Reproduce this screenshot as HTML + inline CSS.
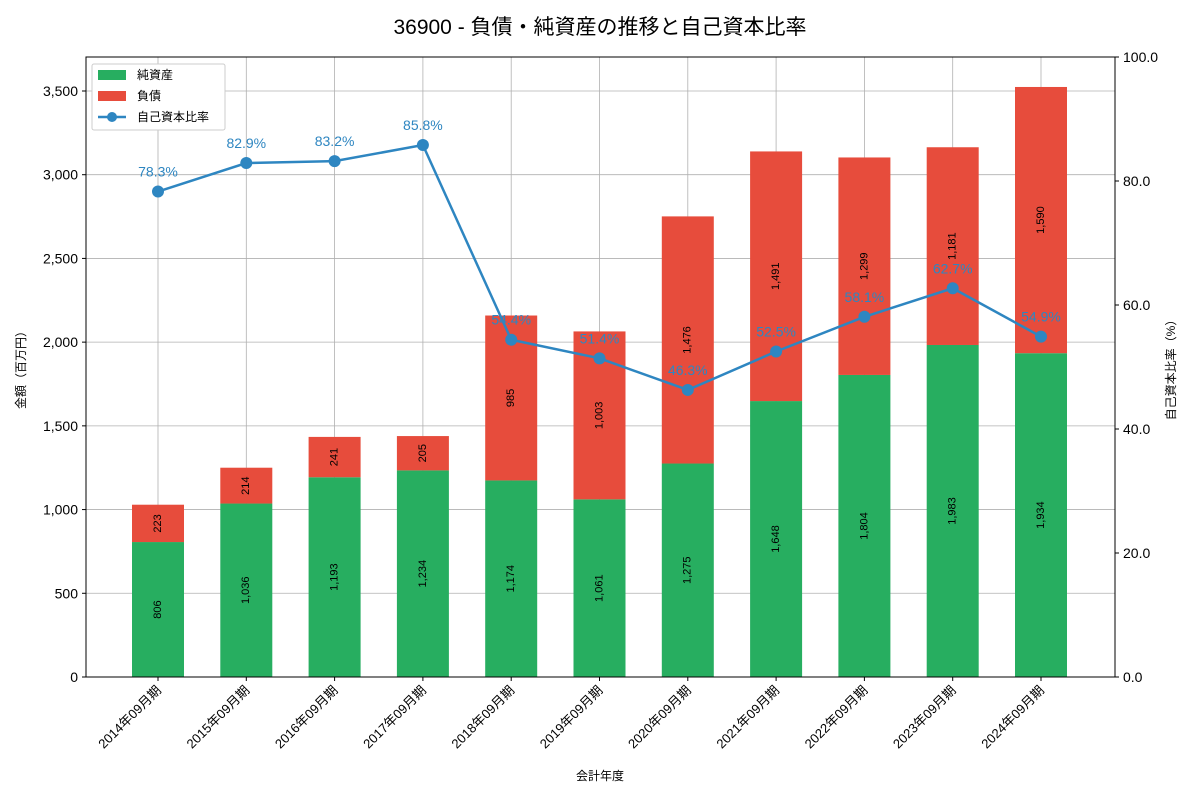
<!DOCTYPE html>
<html><head><meta charset="utf-8"><style>
body{margin:0;background:#fff;}
svg text{font-family:"Liberation Sans","Noto Sans CJK JP",sans-serif;}
</style></head><body>
<svg id="chart" width="1200" height="800" viewBox="0 0 1200 800">
<rect width="1200" height="800" fill="#fff"/>
<text x="600" y="34" text-anchor="middle" font-size="21" fill="#000">36900 - 負債・純資産の推移と自己資本比率</text>
<g id="grid"></g><g id="bars"></g><g id="line"></g><g id="axes"></g>
<g>
<rect x="92" y="64" width="133" height="66" fill="#fff" stroke="#ccc" rx="2"/>
<rect x="98" y="70" width="28" height="10" fill="#27ae60"/>
<text x="137" y="79" font-size="12">純資産</text>
<rect x="98" y="91" width="28" height="10" fill="#e74c3c"/>
<text x="137" y="100" font-size="12">負債</text>
<line x1="98" y1="117" x2="126" y2="117" stroke="#2e86c1" stroke-width="2.5"/>
<circle cx="112" cy="117" r="5" fill="#2e86c1"/>
<text x="137" y="121" font-size="12">自己資本比率</text>
</g>
</svg>
<script>
const categories=["2014年09月期","2015年09月期","2016年09月期","2017年09月期","2018年09月期","2019年09月期","2020年09月期","2021年09月期","2022年09月期","2023年09月期","2024年09月期"];
const equity=[806,1036,1193,1234,1174,1061,1275,1648,1804,1983,1934];
const liabilities=[223,214,241,205,985,1003,1476,1491,1299,1181,1590];
const ratio=[78.3,82.9,83.2,85.8,54.4,51.4,46.3,52.5,58.1,62.7,54.9];
const leftTicks=[0,500,1000,1500,2000,2500,3000,3500];
const rightTicks=[0,20,40,60,80,100];
const NS="http://www.w3.org/2000/svg";
const L=86,R=1115,T=57,B=677,YMAX=3703;
const x=i=>158+i*88.3;
const y=v=>B-(v/YMAX)*(B-T);
const y2=v=>B-(v/100)*(B-T);
const bw=52;
function mk(tag,attrs,parent,txt){const e=document.createElementNS(NS,tag);for(const k in attrs)e.setAttribute(k,attrs[k]);if(txt!==undefined)e.textContent=txt;document.getElementById(parent).appendChild(e);return e;}
const fmt=n=>n.toLocaleString('en-US');
leftTicks.forEach(t=>{const g=mk('line',{x1:L,x2:R,y1:y(t),y2:y(t),stroke:'#b0b0b0','stroke-width':0.8},'grid');

});
categories.forEach((c,i)=>{const g=mk('line',{x1:x(i),x2:x(i),y1:T,y2:B,stroke:'#b0b0b0','stroke-width':0.8},'grid');

});
categories.forEach((c,i)=>{
const e=mk('rect',{x:x(i)-bw/2,y:y(equity[i]),width:bw,height:B-y(equity[i]),fill:'#27ae60'},'bars');


const l=mk('rect',{x:x(i)-bw/2,y:y(equity[i]+liabilities[i]),width:bw,height:y(equity[i])-y(equity[i]+liabilities[i]),fill:'#e74c3c'},'bars');


const ye=y(equity[i]/2),yl=y(equity[i]+liabilities[i]/2);
const t1=mk('text',{x:x(i),y:ye,'font-size':11,'text-anchor':'middle','dominant-baseline':'middle',transform:`rotate(-90 ${x(i)} ${ye})`},'bars',fmt(equity[i]));


const t2=mk('text',{x:x(i),y:yl,'font-size':11,'text-anchor':'middle','dominant-baseline':'middle',transform:`rotate(-90 ${x(i)} ${yl})`},'bars',fmt(liabilities[i]));


});
const pl=mk('polyline',{points:ratio.map((v,i)=>x(i)+','+y2(v)).join(' '),fill:'none',stroke:'#2e86c1','stroke-width':2.5},'line');


ratio.forEach((v,i)=>{
const c=mk('circle',{cx:x(i),cy:y2(v),r:6,fill:'#2e86c1'},'line');


const t=mk('text',{x:x(i),y:y2(v)-15,'font-size':14,'text-anchor':'middle',fill:'#2e86c1'},'line',v.toFixed(1)+'%');


});
const fr=mk('rect',{x:L,y:T,width:R-L,height:B-T,fill:'none',stroke:'#000','stroke-width':1},'axes');


leftTicks.forEach(t=>{mk('line',{x1:L-4,x2:L,y1:y(t),y2:y(t),stroke:'#000'},'axes');
const e=mk('text',{x:L-8,y:y(t)+5,'font-size':14,'text-anchor':'end'},'axes',fmt(t));

});
rightTicks.forEach(t=>{mk('line',{x1:R,x2:R+4,y1:y2(t),y2:y2(t),stroke:'#000'},'axes');
const e=mk('text',{x:R+8,y:y2(t)+5,'font-size':14},'axes',t.toFixed(1));

});
categories.forEach((c,i)=>{mk('line',{x1:x(i),x2:x(i),y1:B,y2:B+4,stroke:'#000'},'axes');
const e=mk('text',{x:x(i)+4,y:B+14,'font-size':13,'text-anchor':'end',transform:`rotate(-45 ${x(i)+4} ${B+14})`},'axes',c);

});
const xt=mk('text',{x:600,y:780,'font-size':12,'text-anchor':'middle'},'axes','会計年度');


const yt=mk('text',{x:25,y:367,'font-size':12,'text-anchor':'middle',transform:'rotate(-90 25 367)'},'axes','金額（百万円）');


const yt2=mk('text',{x:1175,y:367,'font-size':12,'text-anchor':'middle',transform:'rotate(-90 1175 367)'},'axes','自己資本比率（%）');


</script>
</body></html>
